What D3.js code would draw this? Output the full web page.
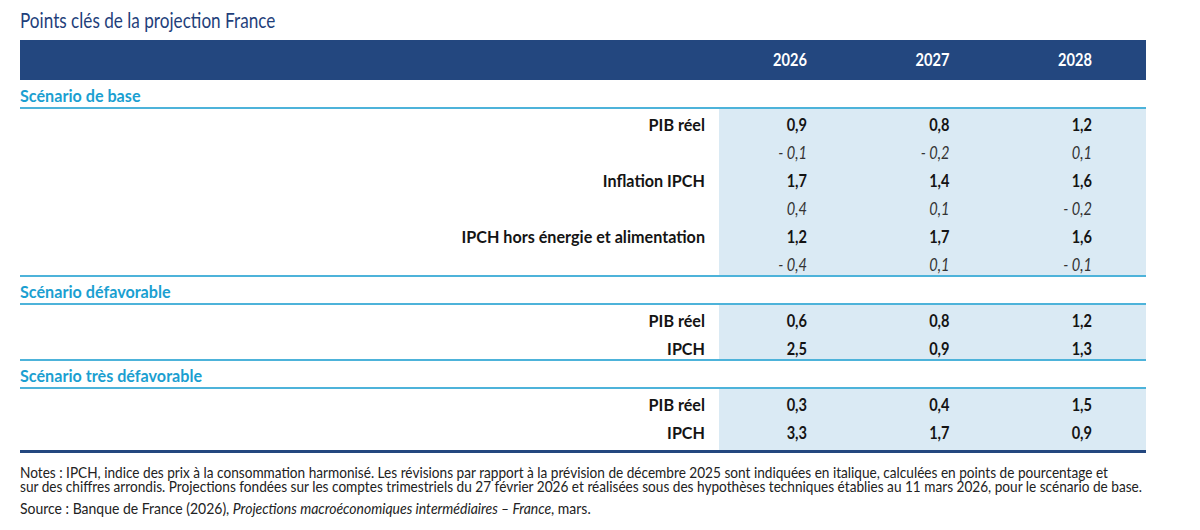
<!DOCTYPE html>
<html>
<head>
<meta charset="utf-8">
<script src="https://cdn.jsdelivr.net/npm/d3@7"></script>
<style>
  body { margin: 0; background: #fff; }
  svg { display: block; font-family: Lato, "Noto Sans", sans-serif; }
</style>
</head>
<body>
<script>
// Data
const title = 'Points clés de la projection France'
const years = ['2026', '2027', '2028']
const scenarios = ['Scénario de base', 'Scénario défavorable', 'Scénario très défavorable']

const baseLabels = ['PIB réel', 'Inflation IPCH', 'IPCH hors énergie et alimentation']
const baseValues = [[0.9, 0.8, 1.2], [1.7, 1.4, 1.6], [1.2, 1.7, 1.6]]
const baseRevisions = [[-0.1, -0.2, 0.1], [0.4, 0.1, -0.2], [-0.4, 0.1, -0.1]]

const defavLabels = ['PIB réel', 'IPCH']
const defavValues = [[0.6, 0.8, 1.2], [2.5, 0.9, 1.3]]

const tresDefavLabels = ['PIB réel', 'IPCH']
const tresDefavValues = [[0.3, 0.4, 1.5], [3.3, 1.7, 0.9]]

const notes = [
  'Notes : IPCH, indice des prix à la consommation harmonisé. Les révisions par rapport à la prévision de décembre 2025 sont indiquées en italique, calculées en points de pourcentage et',
  'sur des chiffres arrondis. Projections fondées sur les comptes trimestriels du 27 février 2026 et réalisées sous des hypothèses techniques établies au 11 mars 2026, pour le scénario de base.'
]
const source = ['Source : Banque de France (2026), ', 'Projections macroéconomiques intermédiaires – France', ', mars.']

// -----------------------------------------------------------------------------

var width = 1200
var height = 530

var svg = d3.select('body').append('svg')
    .attr('width', width)
    .attr('height', height)

var left = 20
var right = 1146
var panelLeft = 719
var rowH = 28

const fmt = v => d3.format('.1f')(Math.abs(v)).replace('.', ',')
const fmtValue = v => (v < 0 ? '- ' : '') + fmt(v)

// columns: values are right aligned on these positions
var x = d3.scalePoint()
    .domain(years)
    .range([807, 1092])

// Avenir-like condensed look: squeeze Lato horizontally
const squeeze = {title: 0.78, label: 0.95, value: 0.86, note: 0.94, source: 0.965}

var panels = svg.append('g')
var linesGroup = svg.append('g')

function addText (parent, px, py, str, sx, anchor) {
  return parent.append('g')
      .attr('transform', 'translate(' + px + ',' + py + ') scale(' + sx + ',1)')
    .append('text')
      .attr('text-anchor', anchor || 'start')
      .text(str)
}

// Title
addText(svg, left, 28, title, squeeze.title)
    .style('font-size', '22px')
    .style('fill', '#1f3f7b')

// Header band
svg.append('rect')
    .attr('x', left)
    .attr('y', 40)
    .attr('width', right - left)
    .attr('height', 40)
    .style('fill', '#23477f')

years.forEach(y => {
  addText(svg, x(y), 66, y, squeeze.value, 'end')
    .style('font-size', '17px')
    .style('font-weight', 700)
    .style('fill', '#fff')
})

// Build the row list
const blocks = [
  {name: scenarios[0], rows: baseLabels.flatMap((l, i) => [
    {label: l, values: baseValues[i], italic: false},
    {label: '', values: baseRevisions[i], italic: true}
  ])},
  {name: scenarios[1], rows: defavLabels.map((l, i) => ({label: l, values: defavValues[i], italic: false}))},
  {name: scenarios[2], rows: tresDefavLabels.map((l, i) => ({label: l, values: tresDefavValues[i], italic: false}))}
]

var yPos = 80

blocks.forEach((block, bi) => {
  // scenario header
  addText(svg, left, yPos + 22, block.name, squeeze.label)
      .style('font-size', '17px')
      .style('font-weight', 700)
      .style('fill', '#1b9fd1')
  yPos += rowH
  linesGroup.append('line')
      .attr('x1', left).attr('x2', right)
      .attr('y1', yPos).attr('y2', yPos)
      .style('stroke', '#4db3da')
      .style('stroke-width', 2)

  var last = bi === blocks.length - 1
  var blockH = block.rows.length * rowH + (last ? 6 : 0)

  panels.append('rect')
      .attr('x', panelLeft)
      .attr('y', yPos)
      .attr('width', right - panelLeft)
      .attr('height', blockH)
      .style('fill', '#daeaf4')

  block.rows.forEach((row, ri) => {
    var by = yPos + ri * rowH + 23
    if (row.label) {
      addText(svg, 705, by, row.label, squeeze.label, 'end')
          .style('font-size', '17px')
          .style('font-weight', 700)
          .style('fill', '#141414')
    }
    row.values.forEach((v, ci) => {
      var t = addText(svg, x(years[ci]), by, fmtValue(v), squeeze.value, 'end')
          .style('font-size', '17px')
      if (row.italic) {
        t.style('font-style', 'italic')
          .style('font-weight', 400)
          .style('fill', '#333')
      } else {
        t.style('font-weight', 700)
          .style('fill', '#141414')
      }
    })
  })

  yPos += blockH
  if (!last) {
    linesGroup.append('line')
        .attr('x1', left).attr('x2', right)
        .attr('y1', yPos).attr('y2', yPos)
        .style('stroke', '#4db3da')
        .style('stroke-width', 2)
  } else {
    svg.append('rect')
        .attr('x', left)
        .attr('y', yPos)
        .attr('width', right - left)
        .attr('height', 3)
        .style('fill', '#23477f')
  }
})

// Notes
notes.forEach((n, i) => {
  addText(svg, left, 478 + i * 14, n, squeeze.note)
      .style('font-size', '14.5px')
      .style('fill', '#222')
})

var src = addText(svg, left, 514, '', squeeze.source)
    .style('font-size', '14.5px')
    .style('fill', '#222')
source.forEach((s, i) => {
  src.append('tspan')
      .style('font-style', i === 1 ? 'italic' : 'normal')
      .text(s)
})
</script>
</body>
</html>
